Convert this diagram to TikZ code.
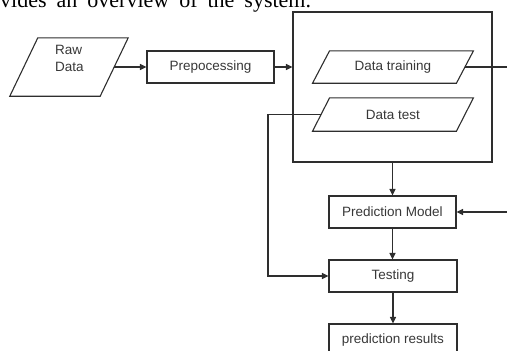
\documentclass[tikz,border=0pt]{standalone}
\usepackage{fontspec}
\setmainfont{Liberation Sans}
\newfontfamily\bodyserif{Liberation Serif}
\usetikzlibrary{arrows.meta}

\definecolor{linecol}{gray}{0.18}
\definecolor{textcol}{gray}{0.22}

\tikzset{
  lbl/.style={font=\fontsize{13.5}{16.5}\selectfont, text=textcol},
  box/.style={draw=linecol, line width=1.1pt, inner sep=0pt,
    minimum width=127pt, minimum height=32pt, lbl},
  frame/.style={draw=none, inner sep=0pt},
  plain/.style={draw=linecol, line width=1.1pt},
  link/.style={plain, -{Triangle[length=6.5pt,width=6pt]}}
}

% slanted input/output shape drawn around an invisible frame node
\newcommand{\slantbox}[2]{%
  \draw[plain] ([xshift=#2]#1.north west) -- ([xshift=#2]#1.north east)
    -- ([xshift=-#2]#1.south east) -- ([xshift=-#2]#1.south west) -- cycle;}

\begin{document}
\begin{tikzpicture}[x=1pt,y=-1pt]
  \useasboundingbox (0,0) rectangle (507,351);
  \clip (0,0) rectangle (507,351);

  % running text above the figure
  \node[anchor=base west, inner sep=0pt,
        font=\bodyserif\fontsize{22}{26}\selectfont] (caption) at (0,7.5)
    {\spaceskip=10pt\relax vides an overview of the system.};

  % input data
  \node[frame, minimum width=90pt, minimum height=58pt] (raw) at (69,67) {};
  \slantbox{raw}{14pt}
  \node[lbl, align=left, inner sep=0pt] (rawtxt) at (69.5,58.5) {Raw\\Data};

  % preprocessing
  \node[box] (prep) at (210.5,67) {Prepocessing};

  % split stage
  \node[draw=linecol, line width=1.1pt, minimum width=199pt, minimum height=150pt,
        inner sep=0pt] (stage) at (392.5,87) {};
  \node[frame, minimum width=143.5pt, minimum height=32pt, lbl] (dtrain) at (393,67) {Data training};
  \slantbox{dtrain}{8.5pt}
  \node[frame, minimum width=143.5pt, minimum height=33pt, lbl] (dtest) at (393,114.5) {Data test};
  \slantbox{dtest}{8.5pt}

  % model and evaluation
  \node[box] (model) at (392.5,212) {Prediction Model};
  \node[box, minimum width=128pt] (test) at (393,276) {Testing};
  \node[box, minimum width=128pt] (result) at (393,340) {prediction results};

  % connector end points
  \coordinate (bend) at (268,114.5);
  \coordinate (outR) at (512,67);
  \coordinate (inR) at (512,212);

  % connectors
  \draw[link] (raw.east) -- (prep.west);
  \draw[link] (prep.east) -- (prep.east -| stage.west);
  \draw[plain] (dtrain.east) -- (outR);
  \draw[link] (dtest.west) -- (bend) |- (test.west);
  \draw[link] (stage.south -| model.north) -- (model.north);
  \draw[link] (inR) -- (model.east);
  \draw[link] (model.south) -- (model.south |- test.north);
  \draw[link] (test.south) -- (result.north);
\end{tikzpicture}
\end{document}
